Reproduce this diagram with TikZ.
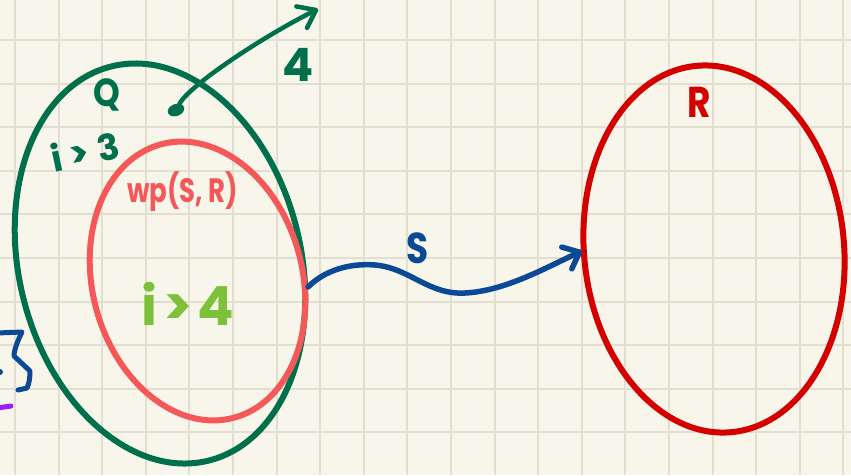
\documentclass[tikz,border=0pt]{standalone}
\usepackage{fontspec}
\setmainfont{Poppins}
\usetikzlibrary{shapes.geometric,arrows.meta}
\definecolor{bg}{HTML}{F8F6EA}
\definecolor{gridc}{HTML}{E2DFD2}
\definecolor{qgreen}{HTML}{00704C}
\definecolor{wppink}{HTML}{F55858}
\definecolor{rred}{HTML}{D40000}
\definecolor{sblue}{HTML}{0B4896}
\definecolor{lime}{HTML}{7DC13A}
\definecolor{purp}{HTML}{A21CF4}
\newcommand{\tallish}[2]{\scalebox{1}[#1]{#2}}
\begin{document}
\begin{tikzpicture}[x=1pt,y=-1pt,
  region/.style={draw, ellipse, line width=6pt, inner sep=0pt},
  lbl/.style={inner sep=0pt, font=\bfseries\fontsize{#1}{#1}\selectfont},
  hand/.style={inner sep=0pt, font=\bfseries\addfontfeatures{LetterSpace=10}\fontsize{#1}{#1}\selectfont},
  wide/.style={inner sep=0pt, font=\bfseries\addfontfeatures{LetterSpace=24}\fontsize{#1}{#1}\selectfont},
  gridline/.style={gridc, line width=2pt},
  sarrow/.style={sblue, line width=5.5pt, line cap=round, line join=round,
    -{Straight Barb[round, length=14pt, width=24pt]}},
  garrow/.style={qgreen, line width=4.5pt, line cap=round, line join=round,
    -{Straight Barb[round, length=16pt, width=24pt]}},
  stroke/.style={line width=5pt, line cap=round, line join=round}]
\fill[bg] (0,0) rectangle (851,475);
\useasboundingbox (0,0) rectangle (851,475);
% grid
\foreach \k in {0,...,19} \draw[gridline] ({15+43.6*\k},0) -- ({15+43.6*\k},475);
\foreach \k in {0,...,9} \draw[gridline] (0,{40+43.6*\k}) -- (851,{40+43.6*\k});
% partial marks at the left edge
\draw[stroke, sblue] (-3,333) -- (22,332) .. controls (18,340) and (14,350) .. (14,356) -- (30,371) .. controls (30,378) and (29,384) .. (27,388) -- (18,390);
\fill[sblue] (0,372) circle (3);
\draw[stroke, purp] (-3,408) -- (11,406);
% regions
\node[region, draw=qgreen, minimum width=282pt, minimum height=406pt, rotate=13.8] (Q) at (160,263.5) {};
\node[region, draw=wppink, minimum width=210pt, minimum height=283pt, rotate=14.8] (wp) at (197.5,281) {};
\node[region, draw=rred, minimum width=260pt, minimum height=368pt, rotate=5.6] (R) at (714,249) {};
% labels
\node[lbl=34, text=qgreen, anchor=base] (Qlbl) at (107,106) {\tallish{1.15}{Q}};
\node[lbl=26, text=wppink, anchor=base] (wplbl) at (182.5,202) {\tallish{1.3}{wp(S, R)}};
\node[lbl=36, text=rred, anchor=base] (Rlbl) at (699,117) {\tallish{1.2}{R}};
\node[lbl=36, text=sblue, anchor=base] (Slbl) at (418,263) {\tallish{1.2}{S}};
\node[lbl=46, text=qgreen, anchor=base] (four) at (298,81) {4};
\node[wide=36, text=qgreen, anchor=base, rotate=12] (ig3) at (88,165) {i>3};
\node[hand=54, text=lime, anchor=base] (ig4) at (188,325) {i>4};
% state dot and its arrow
\node[fill=qgreen, ellipse, minimum width=17pt, minimum height=12pt, inner sep=0pt, rotate=20] (dot) at (176,110) {};
\coordinate (gEnd) at (318,9);
\draw[garrow] (dot) .. controls (190,85) and (262,37) .. (gEnd);
% S arrow
\coordinate (sStart) at (308,287);
\coordinate (sEnd) at (582,251);
\draw[sarrow] (sStart) .. controls (325,270) and (350,263) .. (375,265)
  .. controls (410,268) and (428,295) .. (465,293)
  .. controls (505,291) and (545,268) .. (sEnd);
\end{tikzpicture}
\end{document}
